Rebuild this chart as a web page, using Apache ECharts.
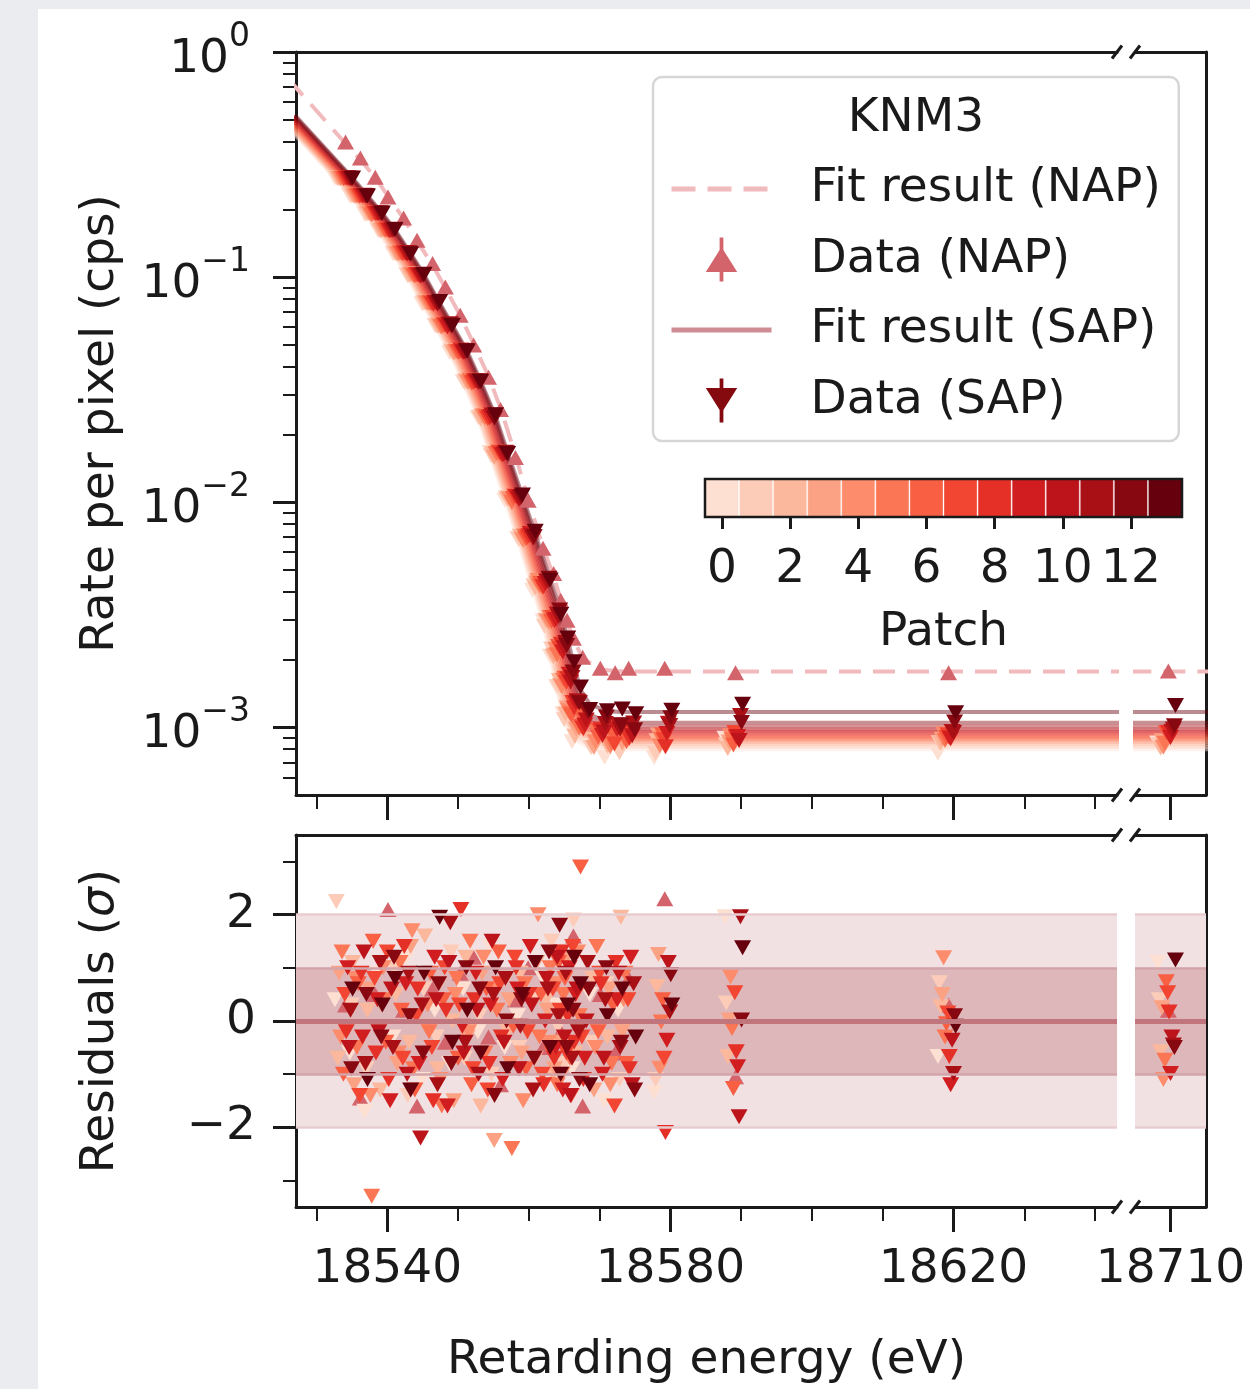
<!DOCTYPE html>
<html>
<head>
<meta http-equiv="Content-Type" content="text/html; charset=utf-8"/>
<script src="https://cdn.jsdelivr.net/npm/echarts@6.0.0/dist/echarts.min.js"></script>
<style>
  body { margin: 0; background: #eaecf0; }
  #paper { position: absolute; left: 38px; top: 9px; width: 1212px; height: 1380px; background: #fff; }
  #chart { position: absolute; left: 0; top: 0; width: 1250px; height: 1389px; }
</style>
</head>
<body>
<div id="paper"></div>
<div id="chart"></div>

<script type="text/javascript">
// ---- values ----
// retarding energy of each scan step (NAP scan; SAP patches are shifted by patchShift)
var energies = [18534.1, 18536.2, 18538.3, 18540.1, 18542.3, 18544.2, 18546.4, 18548.2, 18550.3,
  18552.2, 18554.3, 18556.0, 18558.1, 18559.9, 18562.0, 18563.5, 18564.5, 18565.4, 18566.3,
  18567.6, 18570.1, 18572.2, 18574.1, 18579.2, 18589.2, 18619.3, 18709.7];
var patchLabels = ['0', '1', '2', '3', '4', '5', '6', '7', '8', '9', '10', '11', '12', '13'];
var patchShift = [-1.5, -1.3, -1.1, -0.9, -0.7, -0.5, -0.3, -0.1, 0.1, 0.3, 0.5, 0.7, 0.85, 1.0];

// NAP
var napRate = [0.398, 0.338, 0.278, 0.227, 0.183, 0.146, 0.115, 0.0903, 0.0678, 0.0499, 0.0359,
  0.0258, 0.0158, 0.0102, 0.00625, 0.00483, 0.00367, 0.00299, 0.00249, 0.00205, 0.00183,
  0.00175, 0.00183, 0.00183, 0.00175, 0.00175, 0.00178];
var napFit = [0.392, 0.332, 0.277, 0.229, 0.182, 0.145, 0.113, 0.0895, 0.0675, 0.0505, 0.0362,
  0.0262, 0.0162, 0.0103, 0.0063, 0.0047, 0.0037, 0.00298, 0.00247, 0.00203, 0.00181,
  0.00178, 0.00177, 0.00177, 0.00177, 0.00177, 0.00177];
var napResiduals = [0.3, -1.45, 0.5, 2.1, 0.2, -1.6, 0.6, -0.4, 0.9, 1.2, -0.3, -1.2, 0.4, 1.0,
  -0.5, 0.7, -0.2, 0.3, 1.6, -1.6, 0.5, -0.6, 0.8, 2.3, -1.05, 0.3, 0.2];

// SAP: shared signal part + per-patch background
var sapSignal = [0.274, 0.229, 0.191, 0.161, 0.1265, 0.1014, 0.0757, 0.0601, 0.0457, 0.0334, 0.0230,
  0.0155, 0.0095, 0.0061, 0.0034, 0.0021, 0.0013, 0.0007, 0.0003, 0.0001, 0.00001,
  0, 0, 0, 0, 0, 0];
var sapBackground = [0.00080, 0.00082, 0.00084, 0.00086, 0.000875, 0.00089, 0.000905, 0.00092,
  0.00094, 0.00096, 0.00098, 0.00101, 0.00105, 0.00117];
var sapRelError = [0.004, 0.004, 0.005, 0.005, 0.006, 0.006, 0.007, 0.008, 0.009, 0.01, 0.012,
  0.014, 0.017, 0.02, 0.025, 0.03, 0.034, 0.038, 0.042, 0.046, 0.05, 0.052, 0.053, 0.06, 0.06, 0.06, 0.06];
var sapResiduals = [
  [0.4, -0.6, -1.7, 0.9, -0.3, 1.2, -1.1, 0.2, -0.8, 0.6, -0.2, 1.4, -0.5, 0.1, -1.3, 0.8, -0.4, 0.3, 1.1, -0.9, 0.5, -1.5, 0.2, -1.34, 1.96, -0.67, 1.1],
  [2.25, 0.3, -0.9, -0.2, 1.0, -1.4, 0.6, -0.3, 1.3, -0.7, 0.1, -1.0, 0.8, -0.5, 0.4, -1.2, 1.5, -0.1, -0.8, 1.9, -0.4, 0.7, -1.1, -1.1, 0.34, 0.72, 0.4],
  [-0.7, 1.1, 0.2, -1.3, 0.5, -0.4, 1.6, -0.9, 0.0, 1.2, -1.6, 0.3, -0.2, 0.9, -0.7, 0.4, -1.0, 1.3, 0.1, -0.6, 0.8, -0.3, 1.95, 0.65, -0.67, 0.27, -0.58],
  [0.9, -1.2, 0.6, 0.3, -0.8, 1.4, -0.1, 0.7, -1.5, -0.3, 0.9, -2.25, 0.4, -0.6, 1.1, 0.2, -0.9, -0.4, 1.2, 0.5, -1.3, 0.6, -0.2, 1.25, 0.02, 0.5, 0.25],
  [-0.3, 0.8, -1.4, 1.0, -0.6, 1.7, 0.3, -1.1, 0.5, -0.2, 1.2, 0.6, -0.8, -1.5, 2.0, -0.4, 0.7, -1.0, 0.2, 1.3, -0.5, -1.2, 0.4, -0.89, 0.83, 1.19, -1.1],
  [1.3, -0.5, -3.3, 0.4, 1.1, -0.9, -0.2, -1.6, 0.8, 1.5, -0.6, 0.2, -2.4, 0.7, -0.3, 1.0, -1.2, 0.5, -0.7, 0.1, 1.4, -0.8, 0.9, -0.02, -0.14, -0.3, -0.74],
  [-1.0, 0.7, 1.5, -0.4, 0.2, -1.3, 0.9, 0.4, -0.7, -1.2, 0.6, 1.3, -0.1, -0.9, 0.5, -0.6, 1.1, 0.8, -1.4, 2.9, -0.2, 0.3, -0.8, 0.4, -1.27, -0.05, 0.74],
  [0.5, -1.4, 0.8, 1.3, -0.7, 0.1, -0.5, 1.0, 0.3, -0.9, -1.3, 0.7, 1.2, -0.2, -1.0, 0.6, 0.2, -0.6, 1.4, -0.3, 0.9, -1.6, 0.4, -0.7, 0.53, 0.15, 0.53],
  [-0.2, 0.9, -0.6, -1.1, 1.4, 0.6, -1.5, 0.2, 2.1, 0.4, -0.8, -0.3, 1.0, 0.5, -1.2, -0.7, 1.3, 0.1, -0.4, -1.1, 0.7, 1.1, -0.9, -2.1, -0.58, -0.67, 0.17],
  [1.0, -0.3, 0.4, -1.5, 0.7, -0.8, 1.2, -1.6, -0.1, 0.9, 0.3, -1.1, 0.6, 1.4, 0.0, -0.5, -1.3, 1.0, 0.5, -0.7, -1.0, 0.4, 1.2, -0.36, -0.86, -1.2, -0.99],
  [-0.5, 1.3, -0.2, 0.6, -1.0, -2.2, 0.4, 1.1, -0.6, 0.2, 1.5, -0.4, -0.9, 0.3, 0.8, 1.2, -0.3, -1.4, 0.6, 0.0, -0.7, 0.9, -1.2, 1.1, -1.8, -0.36, -0.3],
  [0.2, -0.8, 1.1, -0.5, 0.9, 0.3, -1.2, 1.85, -0.4, -1.0, 0.5, 0.8, -0.1, -1.3, 0.6, 0.1, 0.9, -0.7, -0.2, 1.1, 0.4, -0.5, 0.7, 0.17, 1.96, -0.99, -0.45],
  [-0.9, 0.5, -0.3, 1.2, 0.1, -0.6, 0.7, -0.8, 1.0, 0.6, -1.4, 0.0, 0.4, -0.7, 1.3, 1.8, -0.5, 0.2, -1.1, 0.6, 1.0, -0.4, -1.3, 0.87, 0.02, 0.1, -0.5],
  [0.6, -1.1, 0.3, 0.8, -1.3, 0.9, 1.95, -0.4, 0.2, -0.6, 1.0, -0.9, 0.5, 1.1, -0.5, -1.0, 0.3, 1.2, 0.7, -1.2, 0.1, 0.6, -0.3, 0.3, 1.38, -0.1, 1.15]
];

// fit curves continue past the plotted range on both sides
var fitEdgeE = [18526, 18720];
var napFitEdge = [0.76, 0.00177];
var sapSignalEdge = [0.52, 0];

// ticks
var xMajorTicks = [18540, 18580, 18620];
var xMinorTicks = [18530, 18550, 18560, 18570, 18590, 18600, 18610, 18630, 18640];
var xBreakTicks = [18710];
var rateMajorTicks = [0.001, 0.01, 0.1, 1];
var rateMinorTicks = [0.0006, 0.0007, 0.0008, 0.0009,
  0.002, 0.003, 0.004, 0.005, 0.006, 0.007, 0.008, 0.009,
  0.02, 0.03, 0.04, 0.05, 0.06, 0.07, 0.08, 0.09,
  0.2, 0.3, 0.4, 0.5, 0.6, 0.7, 0.8, 0.9];
var resMajorTicks = [-2, 0, 2];
var resMinorTicks = [-3, -1, 1, 3];

var xLeftRange = [18527.1, 18643.1];
var xRightRange = [18705, 18715];
var rateRange = [0.000501, 1];
var resRange = [-3.5, 3.5];

// ---- style ----
var FONT = 'DejaVu Sans';
var INK = '#1a1a1a';
var patchColors = ['#fee0d2', '#fdccb8', '#fcb89d', '#fca284', '#fc8c6c', '#fb7655', '#f85f43',
  '#f24633', '#e43027', '#d11d1f', '#bc141a', '#a81016', '#880811', '#67000d'];
var napColor = '#d4646b';
var napFitColor = '#f1babd';
var sapLegendLine = '#cf8c92';
var sapLegendMarker = '#850a0f';
var upMark = 'path://M4.4,14 H5.6 V11 H10 L5.6,3.96 V0 H4.4 V3.96 L0,11 H4.4 Z';
var downMark = 'path://M4.4,0 H5.6 V3 H10 L5.6,10.04 V14 H4.4 V10.04 L0,3 H4.4 Z';
var markSize = [17, 15];

var textBase = {fontFamily: FONT, fontSize: 47, color: INK};

function spine(show) {
    return {show: show, onZero: false, lineStyle: {color: INK, width: 3}};
}
function tickSet(values, len, width) {
    return {show: true, inside: false, length: len, customValues: values,
        lineStyle: {color: INK, width: width}};
}
function axis(type, grid, range, pos, extra) {
    var a = {type: type, gridIndex: grid, min: range[0], max: range[1], position: pos,
        axisLine: spine(false), axisTick: {show: false}, axisLabel: {show: false},
        splitLine: {show: false}, minorTick: {show: false}};
    if (type === 'log') a.logBase = 10;
    for (var k in extra) a[k] = extra[k];
    return a;
}
function minusSign(v) {
    return v < 0 ? '\u2212' + (-v) : String(v);
}

var xLabelStyle = {show: true, margin: 39, hideOverlap: false,
    fontFamily: FONT, fontSize: 47, color: INK,
    formatter: function (v) { return String(v); }};

var xAxes = [
    axis('value', 0, xLeftRange, 'bottom', {axisLine: spine(true), axisTick: tickSet(xMajorTicks, 25, 3)}),
    axis('value', 0, xLeftRange, 'bottom', {axisTick: tickSet(xMinorTicks, 14, 2)}),
    axis('value', 0, xLeftRange, 'top', {axisLine: spine(true)}),
    axis('value', 1, xRightRange, 'bottom', {axisLine: spine(true), axisTick: tickSet(xBreakTicks, 25, 3)}),
    axis('value', 1, xRightRange, 'top', {axisLine: spine(true)}),
    axis('value', 2, xLeftRange, 'bottom', {
        axisLine: spine(true), axisTick: tickSet(xMajorTicks, 25, 3),
        axisLabel: Object.assign({customValues: xMajorTicks}, xLabelStyle),
        name: 'Retarding energy (eV)', nameLocation: 'middle', nameGap: 130, nameTextStyle: textBase
    }),
    axis('value', 2, xLeftRange, 'bottom', {axisTick: tickSet(xMinorTicks, 14, 2)}),
    axis('value', 2, xLeftRange, 'top', {axisLine: spine(true)}),
    axis('value', 3, xRightRange, 'bottom', {
        axisLine: spine(true), axisTick: tickSet(xBreakTicks, 25, 3),
        axisLabel: Object.assign({customValues: xBreakTicks}, xLabelStyle)
    }),
    axis('value', 3, xRightRange, 'top', {axisLine: spine(true)}),
    {
        type: 'category', gridIndex: 4, data: patchLabels, position: 'bottom',
        axisLine: {show: false}, splitLine: {show: false},
        axisTick: {show: true, alignWithLabel: true, interval: 1, length: 12, lineStyle: {color: INK, width: 3}},
        axisLabel: {show: true, interval: 1, margin: 29, hideOverlap: false, fontFamily: FONT, fontSize: 47, color: INK},
        name: 'Patch', nameLocation: 'middle', nameGap: 92, nameTextStyle: textBase
    }
];

var yAxes = [
    axis('log', 0, rateRange, 'left', {
        axisLine: spine(true), axisTick: tickSet(rateMajorTicks, 23, 3),
        axisLabel: {
            show: true, customValues: rateMajorTicks, margin: 46, hideOverlap: false,
            formatter: function (v) {
                var e = Math.round(Math.log(v) / Math.LN10);
                return '{b|10}{s|' + minusSign(e) + '}';
            },
            rich: {
                b: {fontFamily: FONT, fontSize: 47, color: INK, lineHeight: 62, verticalAlign: 'bottom'},
                s: {fontFamily: FONT, fontSize: 33, color: INK, lineHeight: 36, verticalAlign: 'top'}
            }
        },
        name: 'Rate per pixel (cps)', nameLocation: 'middle', nameGap: 172, nameTextStyle: textBase
    }),
    axis('log', 0, rateRange, 'left', {axisTick: tickSet(rateMinorTicks, 13, 2)}),
    axis('log', 1, rateRange, 'right', {axisLine: spine(true)}),
    axis('value', 2, resRange, 'left', {
        axisLine: spine(true), axisTick: tickSet(resMajorTicks, 23, 3),
        axisLabel: {show: true, customValues: resMajorTicks, margin: 40, hideOverlap: false,
            fontFamily: FONT, fontSize: 47, color: INK, formatter: minusSign},
        name: 'Residuals ({i|\u03c3})', nameLocation: 'middle', nameGap: 172,
        nameTextStyle: Object.assign({rich: {i: {fontFamily: FONT, fontSize: 47, color: INK, fontStyle: 'italic'}}}, textBase)
    }),
    axis('value', 2, resRange, 'left', {axisTick: tickSet(resMinorTicks, 13, 2)}),
    axis('value', 3, resRange, 'right', {axisLine: spine(true)}),
    {type: 'value', gridIndex: 4, min: 0, max: 1, show: false}
];

// ---- series ----
function napFitData() {
    var d = [[fitEdgeE[0], napFitEdge[0]]];
    energies.forEach(function (e, k) { d.push([e, napFit[k]]); });
    d.push([fitEdgeE[1], napFitEdge[1]]);
    return d;
}
function sapFitData(p) {
    var d = [[fitEdgeE[0] + patchShift[p], sapSignalEdge[0] + sapBackground[p]]];
    energies.forEach(function (e, k) { d.push([e + patchShift[p], sapSignal[k] + sapBackground[p]]); });
    d.push([fitEdgeE[1], sapSignalEdge[1] + sapBackground[p]]);
    return d;
}
function inside(x, range) { return x >= range[0] && x <= range[1]; }

function napPoints(range, residual) {
    var pts = [];
    energies.forEach(function (e, k) {
        if (inside(e, range)) pts.push([e, residual ? napResiduals[k] : napRate[k]]);
    });
    return pts;
}
function sapPoints(range, residual) {
    var pts = [];
    for (var p = 0; p < patchLabels.length; p++) {
        energies.forEach(function (e, k) {
            var x = e + patchShift[p];
            if (!inside(x, range)) return;
            var fit = sapSignal[k] + sapBackground[p];
            var y = residual ? sapResiduals[p][k] : fit * (1 + sapResiduals[p][k] * sapRelError[k]);
            pts.push({value: [x, y], itemStyle: {color: patchColors[p], opacity: 1}});
        });
    }
    return pts;
}

var series = [];
[[0, 0, xLeftRange], [3, 2, xRightRange]].forEach(function (ax) {
    series.push({
        type: 'line', name: 'Fit result (NAP)', xAxisIndex: ax[0], yAxisIndex: ax[1],
        data: napFitData(), symbol: 'none', clip: true, z: 2,
        lineStyle: {color: napFitColor, width: 4, type: [22, 12]}
    });
    for (var p = 0; p < patchLabels.length; p++) {
        series.push({
            type: 'line', name: 'Fit result (SAP)', xAxisIndex: ax[0], yAxisIndex: ax[1],
            data: sapFitData(p), symbol: 'none', clip: true, z: 3,
            lineStyle: {color: patchColors[p], width: 4, opacity: 0.45}
        });
    }
    series.push({
        type: 'scatter', name: 'Data (NAP)', xAxisIndex: ax[0], yAxisIndex: ax[1],
        data: napPoints(ax[2], false), symbol: 'triangle', symbolSize: markSize, z: 4,
        itemStyle: {color: napColor, opacity: 1}
    });
    series.push({
        type: 'scatter', name: 'Data (SAP)', xAxisIndex: ax[0], yAxisIndex: ax[1],
        data: sapPoints(ax[2], false), symbol: 'triangle', symbolRotate: 180, symbolSize: markSize, z: 5,
        itemStyle: {color: sapLegendMarker, opacity: 1}
    });
});

[[5, 3, xLeftRange], [8, 5, xRightRange]].forEach(function (ax) {
    series.push({
        type: 'line', name: 'bands', xAxisIndex: ax[0], yAxisIndex: ax[1], data: [], silent: true, z: 1,
        markArea: {
            silent: true, label: {show: false},
            data: [
                [{yAxis: -2, itemStyle: {color: '#f1e1e3'}}, {yAxis: 2}],
                [{yAxis: -1, itemStyle: {color: '#deb7ba'}}, {yAxis: 1}]
            ]
        },
        markLine: {
            silent: true, symbol: 'none', label: {show: false},
            data: [
                {yAxis: 2, lineStyle: {color: '#e8cdd0', width: 2.5, type: 'solid'}},
                {yAxis: -2, lineStyle: {color: '#e8cdd0', width: 2.5, type: 'solid'}},
                {yAxis: 1, lineStyle: {color: '#d3a5aa', width: 2.5, type: 'solid'}},
                {yAxis: -1, lineStyle: {color: '#d3a5aa', width: 2.5, type: 'solid'}},
                {yAxis: 0, lineStyle: {color: '#c1767e', width: 5, type: 'solid'}}
            ]
        }
    });
    series.push({
        type: 'scatter', name: 'res NAP', xAxisIndex: ax[0], yAxisIndex: ax[1],
        data: napPoints(ax[2], true), symbol: 'triangle', symbolSize: markSize, z: 3,
        itemStyle: {color: napColor, opacity: 1}
    });
    series.push({
        type: 'scatter', name: 'res SAP', xAxisIndex: ax[0], yAxisIndex: ax[1],
        data: sapPoints(ax[2], true), symbol: 'triangle', symbolRotate: 180, symbolSize: markSize, z: 4,
        itemStyle: {opacity: 1}
    });
});

// colour bar
series.push({
    type: 'bar', name: 'patch colours', xAxisIndex: 10, yAxisIndex: 6, silent: true,
    barCategoryGap: '0%', z: 2,
    itemStyle: {borderColor: 'rgba(255,255,255,0.35)', borderWidth: 1},
    data: patchLabels.map(function (l, i) { return {value: 1, itemStyle: {color: patchColors[i]}}; })
});

// ---- decorations: break marks, colour bar frame, legend title ----
var graphics = [];
var breakX = [1117, 1135];
var spineY = [52, 795, 835, 1207];
breakX.forEach(function (x) {
    spineY.forEach(function (y) {
        graphics.push({type: 'line', z: 50, shape: {x1: x - 5, y1: y + 6.5, x2: x + 5, y2: y - 6.5},
            style: {stroke: INK, lineWidth: 3}});
    });
});
graphics.push({type: 'rect', z: 50, shape: {x: 705, y: 479, width: 477, height: 38},
    style: {fill: null, stroke: INK, lineWidth: 2.5}});
graphics.push({type: 'text', z: 50, x: 916, y: 119,
    style: {text: 'KNM3', font: '47px "DejaVu Sans"', fill: INK, textAlign: 'center', textVerticalAlign: 'middle'}});

function gridBox(l, t, w, h) {
    return {left: l, top: t, width: w, height: h, containLabel: false, outerBoundsMode: 'none', show: false};
}

var chart = echarts.init(document.getElementById('chart'), null, {renderer: 'canvas'});
chart.setOption({
    animation: false,
    backgroundColor: 'transparent',
    textStyle: {fontFamily: FONT},
    grid: [
        gridBox(296, 52, 821, 743),
        gridBox(1135, 52, 71, 743),
        gridBox(296, 835, 821, 372),
        gridBox(1135, 835, 71, 372),
        gridBox(705, 479, 477, 38)
    ],
    xAxis: xAxes,
    yAxis: yAxes,
    legend: {
        left: 653, top: 77, orient: 'vertical', selectedMode: false,
        itemWidth: 100, itemHeight: 44, itemGap: 14.5, symbolRotate: 0,
        padding: [84, 18, 12.5, 16],
        backgroundColor: 'rgba(255,255,255,0.85)', borderColor: '#d6d6d6', borderWidth: 2.5, borderRadius: 9,
        textStyle: {fontFamily: FONT, fontSize: 47, color: INK, lineHeight: 56, rich: {p: {width: 34}}},
        formatter: function (name) { return '{p|}' + name; },
        data: [
            {name: 'Fit result (NAP)', itemStyle: {opacity: 0},
                lineStyle: {color: napFitColor, width: 5, type: [24, 12], opacity: 1}},
            {name: 'Data (NAP)', icon: upMark, itemStyle: {color: napColor, opacity: 1}},
            {name: 'Fit result (SAP)', itemStyle: {opacity: 0}, lineStyle: {color: sapLegendLine, width: 5, opacity: 1}},
            {name: 'Data (SAP)', icon: downMark, itemStyle: {color: sapLegendMarker, opacity: 1}}
        ]
    },
    graphic: graphics,
    series: series
});
</script>
</body>
</html>
